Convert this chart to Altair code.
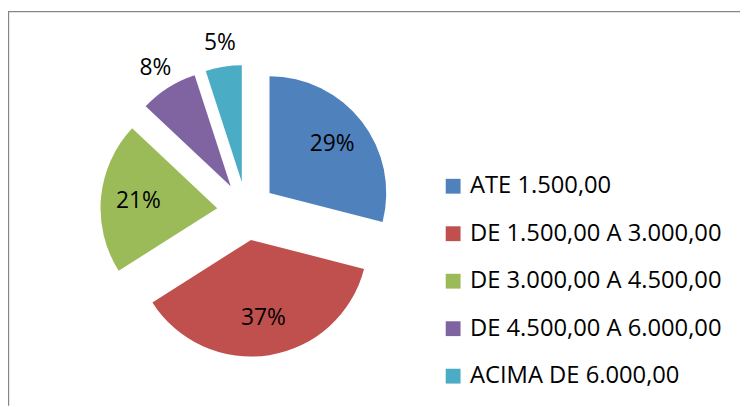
import altair as alt
import pandas as pd

categories = [
    "ATE 1.500,00",
    "DE 1.500,00 A 3.000,00",
    "DE 3.000,00 A 4.500,00",
    "DE 4.500,00 A 6.000,00",
    "ACIMA DE 6.000,00",
]
values = [29, 37, 21, 8, 5]
colors = ["#4F81BD", "#C0504D", "#9BBB59", "#8064A2", "#4BACC6"]

df = pd.DataFrame({"cat": categories, "value": values, "order": list(range(len(values)))})

CX, CY, R, EXPLODE = 241, 203, 118, 29.6
FONT = "Open Sans"

base = (
    alt.Chart(df)
    .transform_joinaggregate(total="sum(value)")
    .transform_window(cum="sum(value)", sort=[alt.SortField("order")], frame=[None, 0])
    .transform_calculate(
        t1="(datum.cum - datum.value) / datum.total * 2 * PI",
        t2="datum.cum / datum.total * 2 * PI",
    )
    .transform_calculate(mid="(datum.t1 + datum.t2) / 2")
    .transform_calculate(
        cx=f"{CX} + {EXPLODE} * sin(datum.mid)",
        cy=f"{CY} - {EXPLODE} * cos(datum.mid)",
        lr="datum.value < 10 ? 142 : 80",
        label="format(datum.value / datum.total, '.0%')",
    )
    .transform_calculate(
        lx="datum.cx + datum.lr * sin(datum.mid)",
        ly="datum.cy - datum.lr * cos(datum.mid)",
    )
)

arcs = base.mark_arc(radius=R).encode(
    theta=alt.Theta("t1:Q", scale=None),
    theta2="t2:Q",
    x=alt.X("cx:Q", scale=None),
    y=alt.Y("cy:Q", scale=None),
    color=alt.Color(
        "cat:N",
        scale=alt.Scale(domain=categories, range=colors),
        sort=categories,
        legend=alt.Legend(
            title=None,
            orient="none",
            legendX=438,
            legendY=166,
            symbolType="square",
            symbolSize=225,
            symbolStrokeWidth=0,
            labelFont=FONT,
            labelFontSize=24,
            labelColor="#000000",
            labelOffset=5,
            rowPadding=24,
            padding=0,
            labelLimit=400,
        ),
    ),
)

labels = base.mark_text(font=FONT, fontSize=23, color="#000000").encode(
    x=alt.X("lx:Q", scale=None),
    y=alt.Y("ly:Q", scale=None),
    text="label:N",
)

frame_df = pd.DataFrame({"k": [0]})
top_line = alt.Chart(frame_df).mark_rule(color="#868686", strokeWidth=1.2).encode(
    x=alt.value(0), x2=alt.value(740), y=alt.value(1.5)
)
left_line = alt.Chart(frame_df).mark_rule(color="#868686", strokeWidth=1.2).encode(
    x=alt.value(0.6), y=alt.value(1.5), y2=alt.value(400)
)

chart = (
    alt.layer(top_line, left_line, arcs, labels)
    .properties(width=740, height=399, padding=0, autosize="none")
    .configure_view(stroke=None)
)

chart.save("out.html", embed_options={"renderer": "svg", "actions": False})
